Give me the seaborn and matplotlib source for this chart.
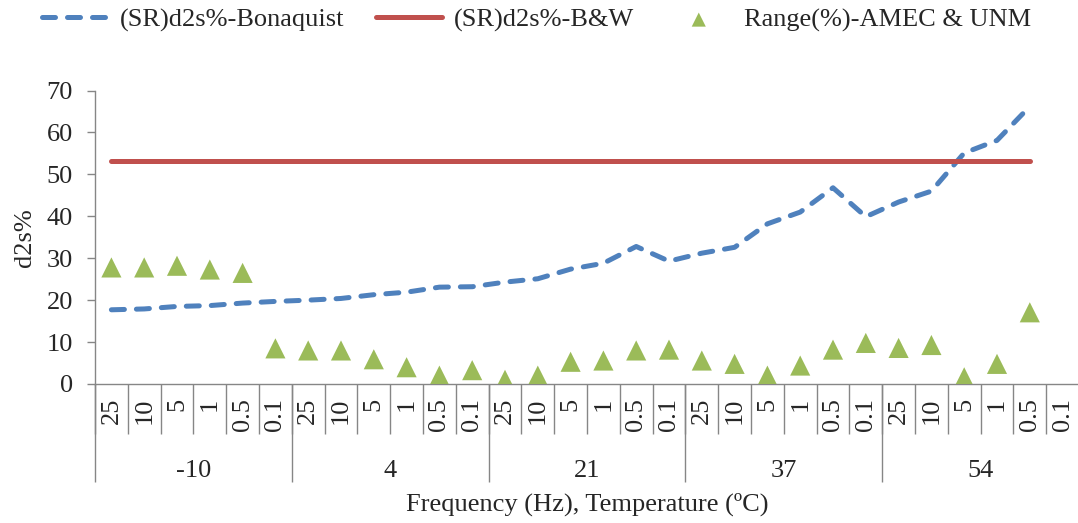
import matplotlib
matplotlib.use("Agg")
import matplotlib.pyplot as plt
import pandas as pd
import seaborn as sns

temperatures = ["-10", "4", "21", "37", "54"]
frequencies = ["25", "10", "5", "1", "0.5", "0.1"]

# values, one per frequency/temperature category (last category empty)
bonaquist = [17.7, 17.9, 18.5, 18.7, 19.3, 19.7, 20.0, 20.4, 21.3, 21.9,
             23.1, 23.2, 24.3, 25.1, 27.4, 28.8, 32.8, 29.3, 31.2, 32.6,
             38.2, 41.0, 46.8, 39.9, 43.4, 46.0, 55.1, 58.1, 66.2, None]
bw_limit = [53.1, 53.1, 53.1, 53.1, 53.1, 53.1, 53.1, 53.1, 53.1, 53.1,
            53.1, 53.1, 53.1, 53.1, 53.1, 53.1, 53.1, 53.1, 53.1, 53.1,
            53.1, 53.1, 53.1, 53.1, 53.1, 53.1, 53.1, 53.1, 53.1, None]
range_amec = [27.8, 27.8, 28.2, 27.3, 26.5, 8.5, 8.0, 8.0, 5.9, 4.0,
              2.0, 3.3, 1.0, 2.0, 5.3, 5.6, 8.0, 8.2, 5.6, 4.8,
              2.0, 4.4, 8.2, 9.8, 8.6, 9.3, 1.6, 4.8, 17.1, None]

BLUE = "#4F81BD"
RED = "#C0504D"
GREEN = "#9BBB59"
GREY = "#868686"


def build_frame():
    rows = []
    for t_i, temp in enumerate(temperatures):
        for f_i, freq in enumerate(frequencies):
            idx = t_i * len(frequencies) + f_i
            rows.append({
                "idx": idx,
                "temp": temp,
                "freq": freq,
                "bonaquist": bonaquist[idx],
                "bw": bw_limit[idx],
                "range": range_amec[idx],
            })
    return pd.DataFrame(rows).astype({"bonaquist": float, "bw": float, "range": float})


def main():
    df = build_frame()

    sns.set_style("white")
    plt.rcParams["font.family"] = ["Liberation Serif", "DejaVu Serif"]
    fs = 19

    fig = plt.figure(figsize=(10.78, 5.23), dpi=100)
    ax = fig.add_axes([95 / 1078, 139 / 523, 984 / 1078, 293.5 / 523])

    sns.lineplot(data=df, x="idx", y="bonaquist", color=BLUE, linewidth=3.6,
                 linestyle=(0, (2.6, 2.4)), dash_capstyle="round",
                 label="(SR)d2s%-Bonaquist", ax=ax)
    sns.lineplot(data=df, x="idx", y="bw", color=RED, linewidth=3.6,
                 solid_capstyle="round", label="(SR)d2s%-B&W", ax=ax)
    sns.scatterplot(data=df, x="idx", y="range", marker="^", s=210, color=GREEN,
                    edgecolor="none", label="Range(%)-AMEC & UNM", ax=ax, zorder=3)

    n = len(df)
    ax.set_xlim(-0.5, n - 0.5)
    ax.set_ylim(0, 70)
    ax.set_yticks(range(0, 71, 10))
    ax.tick_params(axis="y", labelsize=fs, length=6, width=1, color=GREY, pad=10, left=True)

    # frequency labels and category separators
    ax.set_xticks(df["idx"])
    ax.set_xticklabels(df["freq"], rotation=90)
    ax.set_xticks([i - 0.5 for i in range(n + 1)], minor=True)
    ax.tick_params(axis="x", which="major", labelsize=fs, length=0, pad=10)
    ax.tick_params(axis="x", which="minor", length=36, width=1, color=GREY, bottom=True)

    for side in ["top", "right"]:
        ax.spines[side].set_visible(False)
    for side in ["left", "bottom"]:
        ax.spines[side].set_color(GREY)
        ax.spines[side].set_linewidth(1)

    # temperature level of the axis
    per = len(frequencies)
    sec = ax.secondary_xaxis("bottom")
    sec.set_xticks([g * per + (per - 1) / 2 for g in range(len(temperatures))])
    sec.set_xticklabels(temperatures)
    sec.set_xticks([g * per - 0.5 for g in range(len(temperatures) + 1)], minor=True)
    sec.tick_params(which="major", length=0, pad=55, labelsize=fs)
    sec.tick_params(which="minor", length=70.5, width=1, color=GREY)
    sec.spines["bottom"].set_visible(False)

    ax.set_xlabel("")
    ax.set_ylabel("d2s%", fontsize=fs)
    ax.yaxis.set_label_coords(-0.0595, 0.5)

    fig.text(587 / 1078, 1 - 504 / 523, "Frequency (Hz), Temperature (ºC)",
             ha="center", va="center", fontsize=fs)

    ax.legend(loc="center left", bbox_to_anchor=(42 / 1078, 1 - 20 / 523),
              bbox_transform=fig.transFigure, ncol=3, frameon=False, fontsize=fs,
              borderpad=0, borderaxespad=0, handlelength=2.5, handletextpad=0.45,
              columnspacing=1.2, markerscale=0.7)

    fig.savefig("out.png", dpi=100)


if __name__ == "__main__":
    main()
